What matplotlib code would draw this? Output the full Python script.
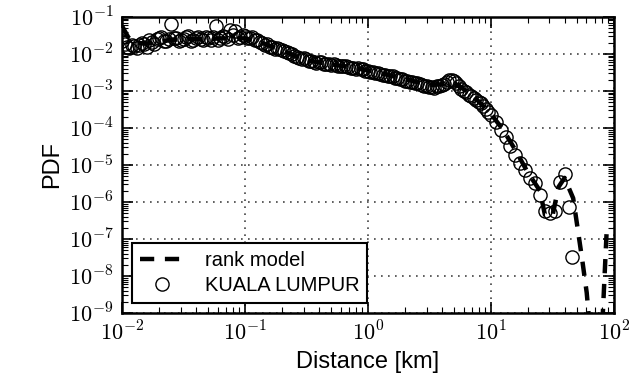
import numpy as np
import matplotlib
matplotlib.use("Agg")
import matplotlib.pyplot as plt
from matplotlib.ticker import LogLocator, NullFormatter

plt.rcParams["mathtext.fontset"] = "cm"
plt.rcParams["font.family"] = ["Liberation Sans", "DejaVu Sans"]

# --- dados (log10 da distancia em km, log10 da PDF) ---
# KUALA LUMPUR (circulos)
logd_obs = [-2.00, -1.96, -1.92, -1.88, -1.84, -1.80, -1.76, -1.72, -1.68, -1.64,
            -1.60, -1.56, -1.52, -1.48, -1.44, -1.40, -1.36, -1.32, -1.28, -1.24,
            -1.20, -1.16, -1.12, -1.08, -1.04, -1.00, -0.96, -0.92, -0.88, -0.84,
            -0.80, -0.76, -0.72, -0.68, -0.64, -0.60, -0.56, -0.52, -0.48, -0.44,
            -0.40, -0.36, -0.32, -0.28, -0.24, -0.20, -0.16, -0.12, -0.08, -0.04,
            0.00, 0.04, 0.08, 0.12, 0.16, 0.20, 0.24, 0.28, 0.32, 0.36,
            0.40, 0.44, 0.48, 0.52, 0.56, 0.60, 0.64, 0.68, 0.72, 0.76,
            0.80, 0.84, 0.88, 0.92, 0.96, 1.00, 1.04, 1.08, 1.12, 1.16,
            1.20, 1.24, 1.28, 1.32, 1.36, 1.40, 1.44, 1.48, 1.52, 1.56,
            1.60, 1.64, 1.66]
logp_obs = [-1.65, -1.80, -1.75, -1.85, -1.70, -1.82, -1.68, -1.60, -1.55, -1.65,
            -1.20, -1.58, -1.62, -1.55, -1.65, -1.57, -1.60, -1.55, -1.62, -1.25,
            -1.58, -1.55, -1.35, -1.38, -1.55, -1.52, -1.58, -1.62, -1.68, -1.75,
            -1.82, -1.88, -1.86, -1.92, -1.98, -2.06, -2.12, -2.12, -2.18, -2.22,
            -2.22, -2.27, -2.28, -2.27, -2.33, -2.32, -2.36, -2.39, -2.38, -2.42,
            -2.47, -2.50, -2.52, -2.56, -2.59, -2.61, -2.65, -2.69, -2.72, -2.76,
            -2.79, -2.83, -2.87, -2.89, -2.87, -2.84, -2.75, -2.71, -2.79, -2.94,
            -3.04, -3.14, -3.24, -3.34, -3.49, -3.65, -3.85, -4.05, -4.25, -4.50,
            -4.72, -4.95, -5.15, -5.35, -5.50, -5.80, -6.25, -6.30, -6.25, -5.45,
            -5.25, -6.15, -7.50]

# bins intermediarios (a nuvem de circulos e bem densa)
logd_obs2 = [-1.98, -1.94, -1.90, -1.86, -1.82, -1.78, -1.74, -1.70, -1.66, -1.62,
             -1.58, -1.54, -1.50, -1.46, -1.42, -1.38, -1.34, -1.30, -1.26, -1.22,
             -1.18, -1.14, -1.10, -1.06, -1.02, -0.98, -0.94, -0.90, -0.86, -0.82,
             -0.78, -0.74, -0.70, -0.66, -0.62, -0.58, -0.54, -0.50, -0.46, -0.42,
             -0.38, -0.34, -0.30, -0.26, -0.22, -0.18, -0.14, -0.10, -0.06, -0.02,
             0.02, 0.06, 0.10, 0.14, 0.18, 0.22, 0.26, 0.30, 0.34, 0.38,
             0.42, 0.46, 0.50, 0.54, 0.58, 0.62, 0.66, 0.70, 0.74, 0.78,
             0.82, 0.86, 0.90, 0.94, 0.98]
logp_obs2 = [-1.72, -1.85, -1.78, -1.76, -1.74, -1.62, -1.72, -1.58, -1.66, -1.60,
             -1.56, -1.66, -1.60, -1.52, -1.62, -1.55, -1.63, -1.58, -1.55, -1.62,
             -1.52, -1.60, -1.50, -1.57, -1.48, -1.56, -1.55, -1.62, -1.70, -1.74,
             -1.80, -1.84, -1.90, -1.94, -2.00, -2.08, -2.14, -2.15, -2.20, -2.24,
             -2.23, -2.28, -2.30, -2.29, -2.34, -2.34, -2.38, -2.40, -2.40, -2.45,
             -2.49, -2.52, -2.55, -2.58, -2.61, -2.64, -2.68, -2.72, -2.75, -2.79,
             -2.82, -2.86, -2.90, -2.91, -2.88, -2.80, -2.70, -2.74, -2.87, -2.99,
             -3.10, -3.20, -3.30, -3.42, -3.58]

# rank model (tracejado)
logd_mod = [-2.00, -1.95, -1.90, -1.80, -1.70, -1.60, -1.50, -1.40, -1.30, -1.20,
            -1.10, -1.00, -0.90, -0.80, -0.70, -0.60, -0.50, -0.40, -0.30, -0.20,
            -0.10, 0.00, 0.10, 0.20, 0.30, 0.40, 0.50, 0.60, 0.70, 0.80,
            0.90, 1.00, 1.10, 1.20, 1.30, 1.40, 1.44, 1.50, 1.55, 1.60,
            1.67, 1.71, 1.745, 1.78, 1.80, 1.82, 1.89, 1.91, 1.945]
logp_mod = [-1.25, -1.55, -1.70, -1.72, -1.68, -1.62, -1.60, -1.60, -1.60, -1.58,
            -1.58, -1.58, -1.65, -1.78, -1.90, -2.05, -2.17, -2.23, -2.28, -2.33,
            -2.38, -2.45, -2.52, -2.60, -2.68, -2.76, -2.84, -2.82, -2.78, -3.00,
            -3.28, -3.62, -4.05, -4.60, -5.20, -5.70, -6.35, -6.40, -5.60, -5.35,
            -5.90, -6.80, -7.60, -8.45, -9.20, -10.0, -10.0, -9.10, -6.60]

xtick_vals = [1e-2, 1e-1, 1e0, 1e1, 1e2]
xtick_labels = [r"$10^{-2}$", r"$10^{-1}$", r"$10^{0}$", r"$10^{1}$", r"$10^{2}$"]
ytick_vals = [1e-9, 1e-8, 1e-7, 1e-6, 1e-5, 1e-4, 1e-3, 1e-2, 1e-1]
ytick_labels = [r"$10^{-9}$", r"$10^{-8}$", r"$10^{-7}$", r"$10^{-6}$", r"$10^{-5}$",
                r"$10^{-4}$", r"$10^{-3}$", r"$10^{-2}$", r"$10^{-1}$"]

d_obs = 10 ** np.array(logd_obs + logd_obs2)
p_obs = 10 ** np.array(logp_obs + logp_obs2)
d_mod = 10 ** np.array(logd_mod)
p_mod = 10 ** np.array(logp_mod)

fig = plt.figure(figsize=(6.36, 3.84), dpi=100)
ax = fig.add_axes([0.192, 0.185, 0.773, 0.771])

ax.plot(d_mod, p_mod, color="black", lw=3.2, linestyle=(0, (3.2, 2.4)),
        label="rank model", zorder=2)
ax.plot(d_obs, p_obs, "o", mfc="none", mec="black", mew=1.0, ms=9.5,
        label="KUALA LUMPUR", zorder=3)

ax.set_xscale("log")
ax.set_yscale("log")
ax.set_xlim(1e-2, 1e2)
ax.set_ylim(1e-9, 1e-1)

ax.set_xticks(xtick_vals)
ax.set_xticklabels(xtick_labels)
ax.set_yticks(ytick_vals)
ax.set_yticklabels(ytick_labels)
for a in (ax.xaxis, ax.yaxis):
    a.set_minor_locator(LogLocator(base=10, subs=np.arange(2, 10), numticks=20))
    a.set_minor_formatter(NullFormatter())

ax.tick_params(which="both", direction="in", top=True, right=True, labelsize=16,
               pad=6)
ax.tick_params(which="major", length=8, width=1.2)
ax.tick_params(which="minor", length=4, width=0.8)
for s in ax.spines.values():
    s.set_linewidth(1.8)

ax.grid(True, which="major", linestyle=(0, (1, 3.2)), color="#444444", lw=1.2)

ax.set_xlabel("Distance [km]", fontsize=17, labelpad=4)
ax.set_ylabel("PDF", fontsize=17, labelpad=4)

leg = ax.legend(loc="lower left", fontsize=14.5, fancybox=False, frameon=True,
                handlelength=2.2, borderpad=0.4, labelspacing=0.3,
                handletextpad=1.0)
leg.get_frame().set_edgecolor("black")
leg.get_frame().set_linewidth(1.5)
leg.get_frame().set_alpha(1.0)

fig.savefig("out.png", dpi=100)
